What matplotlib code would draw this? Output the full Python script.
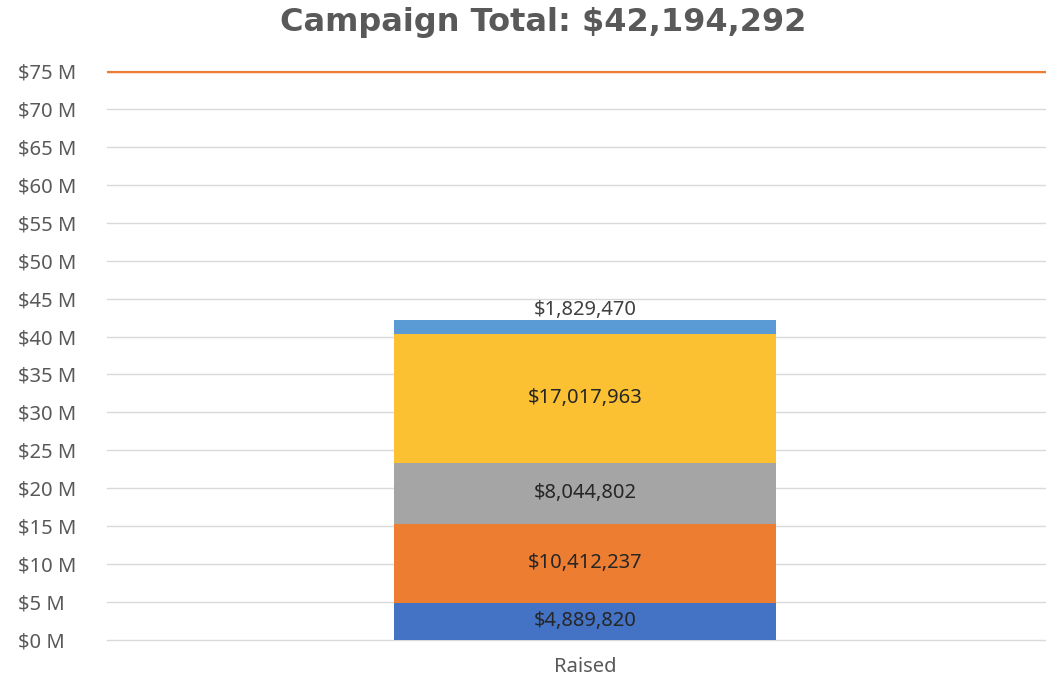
import numpy as np
import matplotlib.pyplot as plt

# ─── Data ─────────────────────────────────────────────────────────────────────
category = ["Raised"]
segments = [4889820, 10412237, 8044802, 17017963, 1829470]
seg_colors = ["#4472C4", "#ED7D31", "#A5A5A5", "#FBC132", "#5B9BD5"]
goal = 75_000_000
total = sum(segments)

plt.rcParams["font.family"] = ["Noto Sans", "DejaVu Sans"]

fig = plt.figure(figsize=(10.46, 6.86), dpi=100)
ax = fig.add_axes([107 / 1046, 1 - 640 / 686, (1046 - 107) / 1046, (640 - 71) / 686])

# ─── Stacked bar ──────────────────────────────────────────────────────────────
x = np.arange(len(category))
bottom = 0
for i, (val, col) in enumerate(zip(segments, seg_colors)):
    ax.bar(x, val, 0.40, bottom=bottom, color=col, zorder=3)
    label = f"${val:,.0f}"
    if i == len(segments) - 1:
        ax.text(x[0], bottom + val, label, ha="center", va="bottom",
                fontsize=14.5, color="#404040", zorder=4)
    else:
        ax.text(x[0], bottom + val / 2, label, ha="center", va="center",
                fontsize=14.5, color="#262626", zorder=4)
    bottom += val

# ─── Goal line ────────────────────────────────────────────────────────────────
ax.axhline(goal, color="#ED7D31", linewidth=2.5, zorder=3)

# ─── Axes styling ─────────────────────────────────────────────────────────────
ax.set_xlim(-0.5, 0.482)
ax.set_ylim(0, goal)
ticks = np.arange(0, goal + 1, 5_000_000)
ax.set_yticks(ticks)
ax.set_yticklabels([f"${t / 1e6:.0f} M" for t in ticks], ha="left")
ax.set_xticks(x)
ax.set_xticklabels(category)
ax.tick_params(axis="both", length=0, labelsize=14.5, labelcolor="#595959")
ax.tick_params(axis="y", pad=64)
ax.tick_params(axis="x", pad=12)
ax.grid(axis="y", color="#D9D9D9", linewidth=1, zorder=0)
for gl in ax.get_ygridlines():
    gl.set_clip_on(False)
for s in ax.spines.values():
    s.set_visible(False)

fig.text(543 / 1046, 1 - 23 / 686, f"Campaign Total: ${total:,.0f}",
         ha="center", va="center", fontsize=23, fontweight="bold",
         color="#595959", family="DejaVu Sans")

plt.savefig("out.png", dpi=100)
